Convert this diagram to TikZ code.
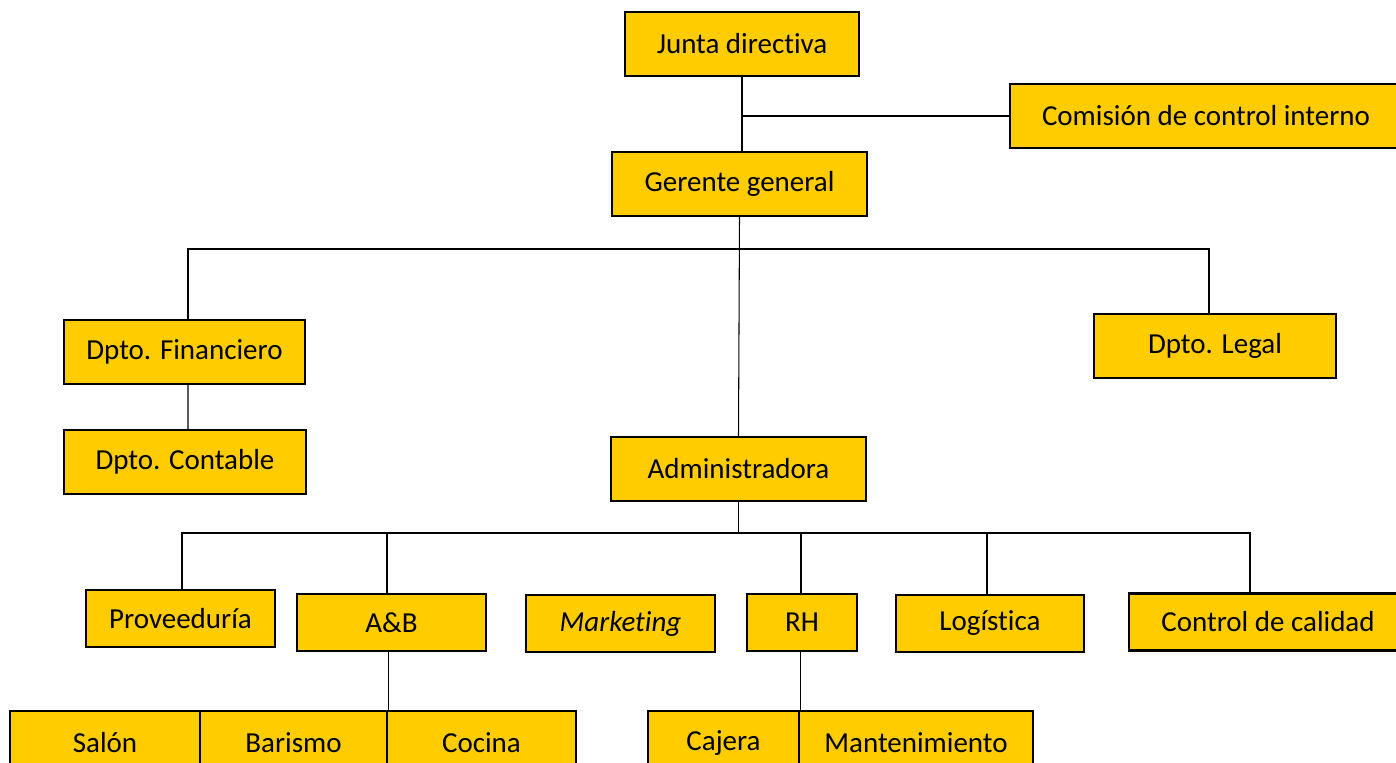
\documentclass[tikz,border=0pt]{standalone}
\usepackage{fontspec}
\setmainfont{Carlito}[RawFeature={-liga;-clig;-dlig;-calt;-rlig}]
\definecolor{cargo}{HTML}{FFCC00}
\tikzset{
  unit/.style={draw, fill=cargo, line width=1.3pt, inner sep=0pt, align=center,
    font=\fontsize{16.5}{20}\selectfont},
  link/.style={line width=0.6pt}
}
\begin{document}
\begin{tikzpicture}[x=0.02cm, y=-0.02cm]
        \clip (0,0) rectangle (1396,762);
        % Top of the chart
        \node[unit, minimum width=234*0.02cm, minimum height=64*0.02cm] (junta) at (742,44) {Junta directiva};
        \node[unit, minimum width=392*0.02cm, minimum height=64*0.02cm] (comision) at (1206,116) {Comisión de control interno};
        \node[unit, minimum width=255*0.02cm, minimum height=64*0.02cm] (gerente) at (739.5,184) {Gerente general};
        % Departments
        \node[unit, minimum width=241*0.02cm, minimum height=64*0.02cm] (fin) at (184.5,352) {Dpto. Financiero};
        \node[unit, minimum width=242*0.02cm, minimum height=64*0.02cm] (cont) at (185,462) {Dpto. Contable};
        \node[unit, minimum width=242*0.02cm, minimum height=64*0.02cm] (legal) at (1215,346) {Dpto. Legal};
        \node[unit, minimum width=255*0.02cm, minimum height=64*0.02cm] (admin) at (738.5,469) {Administradora};
        % Areas under the administration
        \foreach \n/\x/\y/\w/\lab in {prov/180.5/618.5/189/Proveeduría, ab/391.5/622.5/189/A\&B,
            mkt/620.5/623.5/189/\textit{Marketing}, rh/802/622.5/110/RH,
            log/990/623.5/188/Logística, ctrl/1268/622/278/Control de calidad} {
            \node[unit, minimum width=\w*0.02cm, minimum height=57*0.02cm] (\n) at (\x,\y) {\lab};
        }
        % Staff row
        \foreach \n/\x/\w/\lab in {salon/105/190/Salón, barismo/293.5/187/Barismo, cocina/481.5/189/Cocina,
            cajera/723.5/151/Cajera, mant/916/234/Mantenimiento} {
            \node[unit, minimum width=\w*0.02cm, minimum height=64*0.02cm] (\n) at (\x,743) {\lab};
        }
        % Connectors
        \draw[link] (junta.south) -- (junta.south |- gerente.north);
        \draw[link] (junta.south |- comision.west) -- (comision.west);
        \draw[link] (gerente.south) -- (admin.north);
        \coordinate (busA) at (gerente.south |- 0,249);
        \draw[link] ([xshift=3.5*0.02cm]fin.north) |- (busA) -| ([xshift=-6*0.02cm]legal.north);
        \draw[link] ([xshift=3.5*0.02cm]fin.south) -- ([xshift=3*0.02cm]cont.north);
        \coordinate (busB) at (admin.south |- 0,533);
        \draw[link] (admin.south) -- (busB);
        \foreach \n/\dx in {prov/1.5, ab/-4.5, rh/-1, log/-3, ctrl/-18} {
            \draw[link] (busB) -| ([xshift=\dx*0.02cm]\n.north);
        }
        \draw[link] (barismo.north east |- ab.south) -- (barismo.north east);
        \draw[link] (cajera.north east |- rh.south) -- (cajera.north east);
\end{tikzpicture}
\end{document}
